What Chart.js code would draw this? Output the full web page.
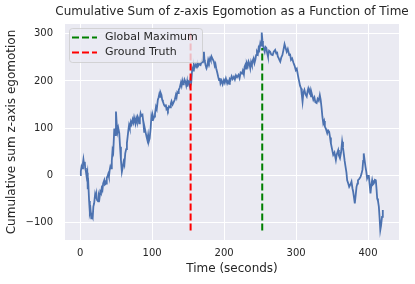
<!DOCTYPE html>
<html>
<head>
<meta charset="utf-8">
<script src="https://cdn.jsdelivr.net/npm/chart.js@4.4.1/dist/chart.umd.min.js"></script>
<style>
  html, body { margin: 0; padding: 0; background: #ffffff; }
  #wrap { width: 415px; height: 284px; }
</style>
</head>
<body>
<div id="wrap"><canvas id="myChart" width="415" height="284"></canvas></div>
<script>
// time (s) and cumulative z-axis egomotion
const timeSec = [
  0, 1, 2, 3, 4, 4.6, 5.5, 6.5, 7, 8, 9, 10, 10.6, 11.5, 12.5, 13.5, 14.5, 15.5, 16.5, 17.5,
  18.4, 19.5, 20.7, 21.5, 22.5, 23.5, 25, 26, 27, 28, 29, 30, 31, 32, 33.6, 34.5, 36, 37, 38, 39,
  40, 41, 42, 43, 44, 45, 46, 47.5, 48.5, 49.8, 50.8, 52, 53, 54.4, 55.5, 56.7, 58, 59, 60.4, 61.5,
  62.7, 64, 65, 66, 67, 68, 69, 70.5, 71.5, 73, 74, 75, 76, 77, 78, 79, 80, 81, 82, 83,
  84, 85, 86.6, 88, 89, 90, 91.2, 92.5, 93.5, 94.5, 95.5, 96.6, 98, 99, 100, 101, 102, 103, 104, 105.4,
  106.5, 108, 109, 110, 111, 112, 113, 114, 115, 116.6, 118, 119, 120, 121, 122, 123.5, 125, 126, 127, 128.5,
  130, 131.5, 133, 134, 135, 136, 137, 138.5, 140, 141, 142, 143, 144, 145, 146.6, 147.5, 148.5, 149, 150, 151.2,
  152, 153.5, 154.5, 155.8, 157, 158, 159, 160.5, 162, 163, 164, 165.5, 167.3, 168.5, 169.6, 170.5, 171.3, 172, 172.7, 173.3,
  174.5, 175.6, 177, 178, 179, 180.5, 181.5, 182.5, 184, 185.8, 187, 188, 189, 190.5, 191.8, 193, 194, 195, 196.5, 198,
  199.7, 201, 202.5, 204.3, 205.5, 207, 208, 209, 210.5, 212, 213.6, 215, 216.5, 218, 220, 221.5, 223, 224.8, 226, 227.5,
  228.5, 229.5, 230.5, 231.5, 233, 234, 235.3, 236.4, 237.5, 238.7, 240, 241, 242.2, 243.4, 244.5, 245.7, 247, 248, 249, 250.3,
  251.3, 252, 252.6, 253.3, 254, 255.2, 256.4, 257.5, 258.7, 259.8, 261, 262.5, 264, 265.5, 267.5, 269, 271, 272.5, 273.5, 274.6,
  276, 277, 278, 279.5, 281, 282.5, 284, 285.5, 287, 288.5, 290.5, 291.5, 293, 294.5, 296.5, 298, 299.6, 301, 302.5, 303.5,
  304.3, 305.5, 307, 308, 309, 310.2, 311.6, 313, 314.8, 316, 317, 318.5, 319.4, 320.8, 322, 324, 325.5, 326.8, 328.6, 330,
  331.5, 333, 334.2, 335.5, 336.5, 337.8, 339, 340, 341.5, 343.3, 344.6, 346, 347.2, 348.4, 350, 351.6, 353.3, 355.3, 356.5, 358.5,
  359.5, 361, 362.5, 364, 365.2, 366.5, 367.5, 368.7, 370, 371, 372.5, 373.8, 375.5, 377, 378.3, 379.3, 380.5, 381.6, 383, 384,
  385.2, 386, 387.8, 389.5, 390.8, 392.2, 393.2, 394, 395.2, 396.4, 397.5, 398.7, 400, 401, 402.2, 403.4, 404.5, 405.7, 406.8, 408,
  409.5, 410.8, 411.8, 412.7, 413.8, 415, 416, 417, 418, 419.4, 420.3, 420.7
];
const egomotion = [
  0, 8, 18, 14, 26, 33, 22, 28, 15, 8, -3, 5, -30, -22, -55, -80, -74, -92, -86, -90,
  -67, -60, -43, -50, -40, -53, -56, -43, -48, -35, -38, -28, -32, -18, -11, -20, -18, -6, -3, 2,
  -4, 10, 18, 14, 30, 53, 48, 99, 85, 135, 110, 92, 100, 89, 60, 32, 7, 15, 28, 22,
  46, 55, 68, 81, 95, 106, 100, 113, 108, 118, 112, 122, 115, 110, 120, 114, 124, 120, 110, 120,
  131, 126, 128, 110, 92, 98, 89, 80, 74, 85, 72, 78, 100, 124, 117, 126, 120, 124, 130, 145,
  140, 160, 165, 172, 166, 174, 170, 160, 156, 149, 146, 150, 140, 142, 138, 146, 144, 152, 157, 150,
  155, 160, 170, 165, 176, 174, 181, 186, 196, 190, 200, 193, 195, 203, 197, 190, 198, 188, 200, 198,
  192, 206, 200, 227, 222, 234, 228, 234, 230, 238, 232, 236, 234, 240, 245, 238, 252, 262, 245, 241,
  232, 227, 235, 245, 240, 248, 244, 252, 247, 241, 232, 236, 227, 218, 209, 202, 206, 195, 201, 193,
  202, 196, 205, 195, 200, 194, 204, 202, 210, 204, 209, 203, 212, 208, 213, 206, 218, 216, 222, 214,
  230, 234, 226, 238, 232, 241, 236, 227, 240, 234, 244, 248, 238, 245, 255, 262, 258, 270, 266, 280,
  275, 292, 303, 285, 276, 268, 262, 272, 270, 260, 252, 264, 262, 256, 255, 262, 266, 258, 262, 252,
  248, 244, 241, 250, 255, 266, 278, 270, 262, 268, 255, 258, 245, 248, 238, 232, 223, 226, 213, 205,
  199, 190, 184, 170, 156, 175, 181, 172, 167, 178, 184, 176, 181, 167, 172, 160, 165, 155, 153, 162,
  158, 170, 160, 142, 125, 110, 115, 103, 98, 89, 95, 92, 80, 67, 55, 43, 48, 32, 44, 53,
  42, 36, 48, 71, 58, 43, 30, 18, 5, -11, -18, -25, -20, -14, -28, -35, -48, -60, -40, -25,
  -18, -11, -8, -4, 2, 11, 30, 46, 32, 18, 8, -7, -2, 0, -20, -39, -22, -11, -20, -18,
  -10, -11, -30, -50, -55, -67, -90, -117, -108, -89, -80, -74
];
const groundTruthTime = 153.5;
const globalMaxTime = 253;
const vlineLow = [-118, -118];
const vlineHigh = [302, 270];   // ground truth, global maximum
const xTicks = [0, 100, 200, 300, 400];
const yTicks = [-100, 0, 100, 200, 300];

const FONT = "'DejaVu Sans', sans-serif";
const INK = "#262626";

const curve = timeSec.map((t, i) => ({ x: t, y: egomotion[i] }));

// title + legend box drawn over the plot, like the matplotlib one
const overlay = {
  id: "overlay",
  afterDraw(chart) {
    const c = chart.ctx;
    const a = chart.chartArea;
    c.save();
    c.fillStyle = INK;
    c.font = "12px " + FONT;
    c.textAlign = "center";
    c.textBaseline = "middle";
    c.fillText("Cumulative Sum of z-axis Egomotion as a Function of Time", (a.left + a.right) / 2, 12);

    const bx = 69.5, by = 28.5, bw = 133, bh = 34, r = 3;
    c.beginPath();
    c.roundRect(bx, by, bw, bh, r);
    c.fillStyle = "rgba(234,234,242,0.8)";
    c.fill();
    c.strokeStyle = "rgba(204,204,204,0.8)";
    c.lineWidth = 1;
    c.stroke();

    const items = [["Global Maximum", "green", 37.5], ["Ground Truth", "red", 52.5]];
    c.font = "11px " + FONT;
    c.textAlign = "left";
    items.forEach(([label, col, y]) => {
      c.beginPath();
      c.setLineDash([7, 3]);
      c.strokeStyle = col;
      c.lineWidth = 2;
      c.moveTo(72, y);
      c.lineTo(97, y);
      c.stroke();
      c.setLineDash([]);
      c.fillStyle = INK;
      c.fillText(label, 105, y);
    });
    c.restore();
  }
};

new Chart(document.getElementById("myChart"), {
  type: "line",
  data: {
    datasets: [
      {
        data: [{ x: groundTruthTime, y: vlineLow[0] }, { x: groundTruthTime, y: vlineHigh[0] }],
        borderColor: "red",
        borderWidth: 2,
        borderDash: [7, 3],
        pointRadius: 0,
      },
      {
        data: [{ x: globalMaxTime, y: vlineLow[1] }, { x: globalMaxTime, y: vlineHigh[1] }],
        borderColor: "green",
        borderWidth: 2,
        borderDash: [7, 3],
        pointRadius: 0,
      },
      {
        data: curve,
        borderColor: "#4C72B0",
        borderWidth: 1.8,
        pointRadius: 0,
        tension: 0,
      },
    ],
  },
  options: {
    responsive: false,
    animation: false,
    layout: { padding: { top: 24, right: 16, left: 0, bottom: 0 } },
    plugins: {
      legend: { display: false },
      tooltip: { enabled: false },
    },
    scales: {
      x: {
        type: "linear",
        min: -21,
        max: 443,
        afterBuildTicks: (s) => { s.ticks = xTicks.map((v) => ({ value: v })); },
        afterFit: (s) => { s.height = 44; },
        grid: { color: "#ffffff", lineWidth: 1, drawTicks: false },
        border: { display: false },
        ticks: { color: INK, font: { family: FONT, size: 10 }, padding: 7, maxRotation: 0 },
        title: {
          display: true,
          text: "Time (seconds)",
          color: INK,
          font: { family: FONT, size: 12 },
          padding: { top: 0, bottom: 7.8 },
        },
      },
      y: {
        min: -138,
        max: 321,
        afterBuildTicks: (s) => { s.ticks = yTicks.map((v) => ({ value: v })); },
        afterFit: (s) => { s.width = 65; },
        grid: { color: "#ffffff", lineWidth: 1, drawTicks: false },
        border: { display: false },
        ticks: {
          color: INK,
          font: { family: FONT, size: 10 },
          padding: 12,
          callback: (v) => (v < 0 ? "\u2212" + Math.abs(v) : String(v)),
        },
        title: {
          display: true,
          text: "Cumulative sum z-axis egomotion",
          color: INK,
          font: { family: FONT, size: 12 },
          padding: { top: 4.8, bottom: 0 },
        },
      },
    },
  },
  plugins: [
    {
      id: "bg",
      beforeDraw(chart) {
        const a = chart.chartArea;
        chart.ctx.save();
        chart.ctx.fillStyle = "#EAEAF2";
        chart.ctx.fillRect(a.left, a.top, a.right - a.left, a.bottom - a.top);
        chart.ctx.restore();
      },
    },
    overlay,
  ],
});
</script>
</body>
</html>
